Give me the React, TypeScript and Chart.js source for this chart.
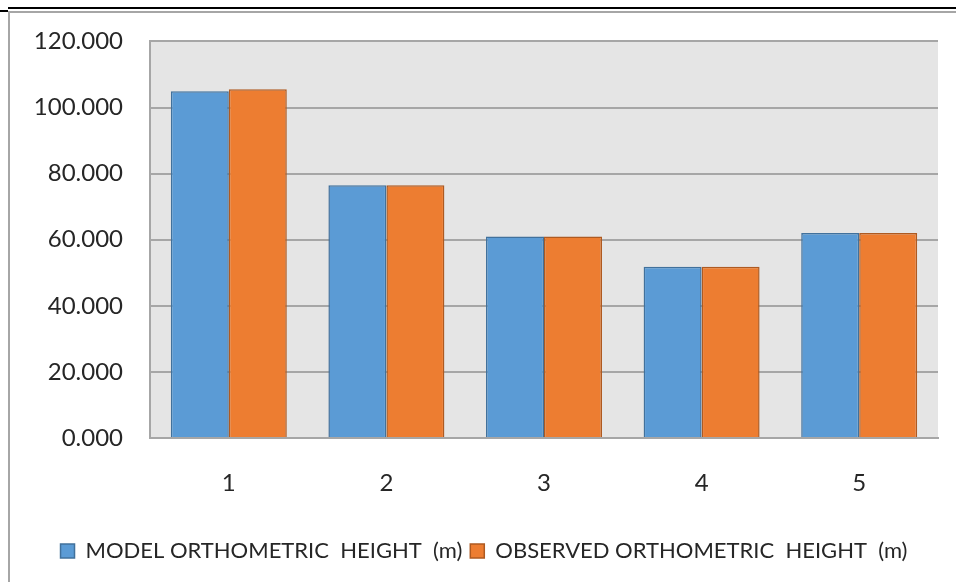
import React, { useEffect, useRef } from "react";
import { Chart, registerables } from "chart.js";

Chart.register(...registerables);

const categories = ["1", "2", "3", "4", "5"];
const modelHeights = [104.9, 76.5, 61.0, 51.8, 62.0];
const observedHeights = [105.5, 76.5, 61.0, 51.8, 62.0];
const seriesLabels = ["MODEL ORTHOMETRIC  HEIGHT  (m)", "OBSERVED ORTHOMETRIC  HEIGHT  (m)"];

const plotBg = {
  id: "plotBg",
  beforeDraw(chart: any) {
    const { ctx, chartArea } = chart;
    if (!chartArea) return;
    ctx.save();
    ctx.fillStyle = "#e5e5e5";
    ctx.fillRect(chartArea.left, chartArea.top, chartArea.right - chartArea.left, chartArea.bottom - chartArea.top);
    ctx.restore();
  },
};

export default function App() {
  const ref = useRef<HTMLCanvasElement | null>(null);
  useEffect(() => {
    if (!ref.current) return;
    const font = "Lato";
    const chart = new Chart(ref.current, {
      type: "bar",
      data: {
        labels: categories,
        datasets: [
          {
            label: seriesLabels[0],
            data: modelHeights,
            backgroundColor: "#5b9bd5",
            borderColor: "#41719c",
            borderWidth: 1.5,
          },
          {
            label: seriesLabels[1],
            data: observedHeights,
            backgroundColor: "#ed7d31",
            borderColor: "#ae5a21",
            borderWidth: 1.5,
          },
        ],
      },
      options: {
        animation: false,
        responsive: false,
        maintainAspectRatio: false,
        layout: { padding: { left: 30, right: 18, top: 40, bottom: 10 } },
        datasets: { bar: { barPercentage: 1, categoryPercentage: 0.736 } },
        scales: {
          x: {
            grid: { display: false },
            border: { display: true, color: "#a6a6a6", width: 2 },
            ticks: { color: "#262626", font: { family: font, size: 24 }, padding: 23 },
            afterFit: (s: any) => { s.height = 94; },
          },
          y: {
            min: 0,
            max: 120,
            ticks: {
              stepSize: 20,
              color: "#262626",
              font: { family: font, size: 24 },
              padding: 27,
              callback: (v: any) => Number(v).toFixed(3),
            },
            grid: { color: "#a6a6a6", lineWidth: 2, drawTicks: false },
            border: { display: true, color: "#a6a6a6", width: 2 },
            afterFit: (s: any) => { s.width = 120; },
          },
        },
        plugins: {
          legend: {
            position: "bottom",
            labels: {
              color: "#262626",
              font: { family: font, size: 22 },
              boxWidth: 14,
              boxHeight: 14,
              padding: 8,
            },
          },
          tooltip: { enabled: false },
        },
      },
      plugins: [plotBg],
    });
    return () => chart.destroy();
  }, []);
  return (
    <div style={{ position: "absolute", left: 0, top: 0, width: 956, height: 582, background: "#ffffff", overflow: "hidden" }}>
      <canvas ref={ref} width={956} height={582} style={{ position: "absolute", left: 0, top: 0, width: 956, height: 582 }} />
      <div style={{ position: "absolute", left: 8, top: 7, width: 948, height: 2, background: "#000" }} />
      <div style={{ position: "absolute", left: 0, top: 10, width: 8, height: 2, background: "#000" }} />
      <div style={{ position: "absolute", left: 8, top: 11, width: 948, height: 2, background: "#a6a6a6" }} />
      <div style={{ position: "absolute", left: 8, top: 11, width: 2, height: 571, background: "#a6a6a6" }} />
    </div>
  );
}
